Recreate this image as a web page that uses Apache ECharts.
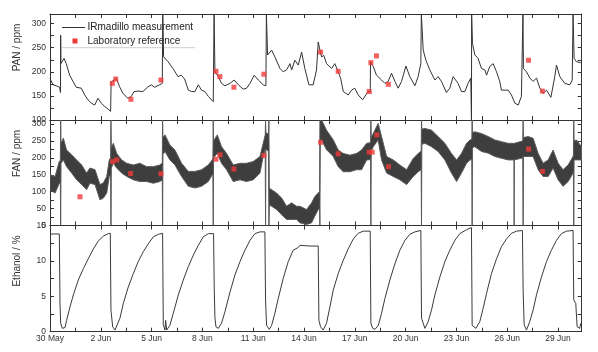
<!DOCTYPE html>
<html>
<head>
<meta charset="utf-8">
<script src="https://cdn.jsdelivr.net/npm/echarts@6/dist/echarts.min.js"></script>
<style>
  html, body { margin: 0; padding: 0; background: #fff; }
  #chart { width: 598px; height: 352px; }
</style>
</head>
<body>
<div id="chart"></div>
<script>
// day 0 = 30 May
var xTickLabels = ['30 May', '2 Jun', '5 Jun', '8 Jun', '11 Jun', '14 Jun', '17 Jun', '20 Jun', '23 Jun', '26 Jun', '29 Jun'];

// PAN (IRmadillo), ppm
var panDay = [0.00, 0.18, 0.37, 0.57, 0.62, 0.63, 0.645, 0.83, 0.96, 1.16, 1.36, 1.55, 1.85, 2.05, 2.24, 2.44, 2.64, 2.83, 3.03, 3.23, 3.42, 3.58,
    3.61, 3.72, 3.92, 4.11, 4.31, 4.60, 4.80, 4.96, 5.19, 5.49, 5.79, 5.98, 6.18, 6.47, 6.63,
    6.66, 6.71, 6.97, 7.26, 7.56, 7.75, 7.95, 8.17, 8.36, 8.56, 8.76, 8.95, 9.15, 9.35, 9.64,
    9.69, 9.74, 9.94, 10.13, 10.33, 10.63, 10.88, 11.12, 11.41, 11.61, 11.81, 12.06, 12.30, 12.59, 12.75,
    12.78, 12.85, 13.09, 13.28, 13.58, 13.77, 13.97, 14.17, 14.27, 14.46, 14.66, 14.86, 15.05, 15.29, 15.54, 15.74,
    15.84, 15.94, 16.04, 16.17, 16.33, 16.63, 16.82, 17.02, 17.16, 17.32, 17.61, 17.81, 18.00, 18.20, 18.46, 18.65, 18.79, 18.91,
    18.93, 19.09, 19.28, 19.58, 19.78, 19.97, 20.17, 20.37, 20.56, 20.76, 21.02, 21.25, 21.55, 21.74, 21.90,
    21.93, 22.04, 22.20, 22.43, 22.73, 22.92, 23.12, 23.41, 23.61, 23.81, 24.10, 24.30, 24.50, 24.69, 24.85,
    24.89, 24.90, 24.95, 25.09, 25.28, 25.48, 25.68, 25.78, 25.97, 26.17, 26.37, 26.56, 26.66, 27.06, 27.25, 27.45, 27.65, 27.84,
    27.93, 27.96, 28.14, 28.34, 28.53, 28.73, 28.93, 29.12, 29.32, 29.58, 29.81, 29.91, 30.11, 30.40, 30.70, 30.84,
    30.89, 30.95, 31.09, 31.35];
var panVal = [186, 173, 171, 168, 157, 276, 217, 228, 217, 193, 180, 168, 166, 152, 142, 135, 131, 145, 135, 128, 123, 118,
    179, 177, 186, 169, 155, 145, 149, 159, 160, 159, 169, 173, 168, 173, 176,
    320, 231, 221, 207, 190, 193, 185, 162, 159, 159, 173, 162, 159, 149, 138,
    320, 200, 190, 176, 171, 176, 183, 173, 164, 166, 176, 193, 183, 173, 171,
    320, 235, 245, 231, 207, 200, 204, 217, 204, 224, 214, 241, 207, 173, 173, 204,
    262, 245, 231, 234, 217, 207, 217, 200, 187, 159, 152, 162, 166, 152, 142, 152, 159, 158,
    221, 211, 193, 183, 176, 180, 197, 180, 166, 180, 212, 190, 171, 190, 217,
    320, 245, 224, 204, 183, 190, 180, 157, 166, 190, 176, 159, 159, 176, 187,
    100, 320, 259, 235, 228, 207, 204, 193, 211, 217, 200, 180, 162, 162, 152, 135, 131, 149,
    320, 207, 200, 187, 180, 187, 166, 155, 162, 147, 190, 214, 190, 176, 173, 183,
    320, 228, 221, 219];

// FAN (IRmadillo), ppm: upper and lower edge of the noisy trace
var fanDay = [0.00, 0.30, 0.55, 0.61, 0.63, 0.65, 0.79, 0.98, 1.28, 1.57, 1.87, 2.16, 2.36, 2.66, 2.95, 3.15, 3.35, 3.50, 3.58,
    3.60, 3.62, 3.74, 3.94, 4.23, 4.53, 4.92, 5.31, 5.71, 6.10, 6.49, 6.63,
    6.65, 6.67, 6.79, 7.08, 7.38, 7.77, 8.17, 8.56, 8.95, 9.35, 9.58, 9.62,
    9.64, 9.66, 9.88, 10.13, 10.43, 10.82, 11.22, 11.61, 12.00, 12.40, 12.59, 12.71,
    12.73, 12.75, 12.90, 12.93, 12.95, 13.09, 13.38, 13.68, 13.97, 14.27, 14.56, 14.76, 15.15, 15.45, 15.64, 15.84, 15.92,
    15.94, 15.96, 16.04, 16.33, 16.73, 17.02, 17.32, 17.71, 18.10, 18.40, 18.70, 18.93,
    18.95, 18.97, 19.09, 19.38, 19.58, 19.88, 20.27, 20.66, 21.06, 21.45, 21.74, 21.92,
    21.94, 21.96, 22.14, 22.53, 22.92, 23.32, 23.71, 24.01, 24.30, 24.60, 24.80, 24.91,
    24.93, 24.95, 25.09, 25.48, 25.88, 26.27, 26.66, 27.05, 27.40, 27.41, 27.42, 27.92,
    27.94, 27.96, 28.24, 28.53, 28.83, 29.12, 29.42, 29.71, 30.01, 30.30, 30.60, 30.89, 30.91,
    30.93, 30.95, 31.09, 31.39];
var fanHigh = [150, 145, 190, 190, 312, 243, 258, 223, 209, 194, 179, 155, 170, 165, 121, 126, 145, 194, 200,
    312, 230, 243, 213, 194, 184, 179, 184, 174, 174, 179, 185,
    312, 260, 268, 238, 223, 184, 160, 160, 165, 179, 194, 200,
    312, 250, 268, 233, 213, 179, 184, 184, 189, 204, 243, 268,
    312, 275, 270, 312, 110, 106, 96, 81, 57, 67, 57, 57, 47, 67, 86, 96, 100,
    312, 312, 312, 282, 253, 223, 213, 208, 213, 223, 243, 245,
    312, 260, 272, 302, 263, 204, 194, 179, 165, 198, 213, 220,
    312, 285, 287, 282, 263, 243, 213, 194, 213, 243, 253, 255,
    312, 275, 277, 272, 263, 253, 248, 243, 243, 243, 243, 250,
    312, 260, 263, 258, 213, 184, 194, 223, 184, 165, 179, 204, 210,
    312, 250, 253, 233];
var fanLow = [106, 96, 125, 125, 0, 184, 194, 174, 155, 135, 121, 106, 125, 121, 76, 81, 96, 145, 150,
    0, 170, 184, 170, 155, 145, 135, 130, 130, 125, 130, 135,
    0, 210, 219, 194, 179, 145, 116, 111, 116, 130, 150, 150,
    0, 200, 214, 184, 165, 130, 135, 130, 135, 155, 204, 225,
    0, 225, 220, 0, 60, 57, 47, 32, 18, 18, 18, 8, 3, 8, 28, 47, 50,
    0, 253, 253, 224, 204, 174, 159, 159, 165, 165, 194, 195,
    0, 220, 233, 253, 194, 155, 145, 135, 121, 145, 159, 165,
    0, 240, 243, 233, 219, 194, 155, 130, 155, 184, 194, 195,
    0, 230, 233, 219, 214, 204, 199, 194, 194, 0, 194, 200,
    0, 204, 204, 204, 165, 145, 145, 170, 135, 116, 130, 155, 160,
    0, 194, 194, 194];

// Ethanol (IRmadillo), %
var ethDay = [0.00, 0.55, 0.59, 0.63, 0.73, 0.89, 0.98, 1.18, 1.38, 1.67, 1.97, 2.26, 2.56, 2.85, 3.15, 3.44, 3.56,
    3.60, 3.62, 3.70, 3.84, 3.94, 4.13, 4.33, 4.62, 4.92, 5.21, 5.51, 5.80, 6.10, 6.40, 6.65,
    6.69, 6.79, 6.83, 6.89, 6.99, 7.08, 7.28, 7.58, 7.87, 8.17, 8.46, 8.76, 9.05, 9.35, 9.66,
    9.70, 9.74, 9.80, 9.94, 10.13, 10.33, 10.63, 10.92, 11.22, 11.51, 11.81, 12.10, 12.40, 12.69,
    12.73, 12.79, 12.95, 13.09, 13.28, 13.48, 13.77, 14.07, 14.36, 14.66, 14.76, 15.35, 15.84,
    15.88, 15.98, 16.13, 16.33, 16.53, 16.73, 17.02, 17.32, 17.61, 17.91, 18.20, 18.50, 18.91,
    18.95, 19.05, 19.19, 19.39, 19.58, 19.78, 20.07, 20.37, 20.66, 20.96, 21.25, 21.55, 21.90,
    21.94, 22.14, 22.33, 22.53, 22.73, 23.02, 23.32, 23.61, 23.91, 24.20, 24.60, 24.89,
    24.93, 25.15, 25.38, 25.58, 25.78, 26.07, 26.37, 26.66, 26.96, 27.25, 27.55, 27.90,
    27.94, 28.00, 28.14, 28.33, 28.53, 28.73, 29.02, 29.32, 29.61, 29.91, 30.20, 30.50, 30.89,
    30.93, 31.05, 31.13, 31.28, 31.35];
var ethVal = [13.8, 13.8, 4.0, 1.2, 0.47, 0.6, 1.6, 3.5, 5.2, 7.3, 8.9, 10.3, 11.7, 12.8, 13.5, 13.85, 13.9,
    3.0, 2.6, 0.7, 0.23, 0.47, 1.9, 4.0, 6.3, 8.2, 9.9, 11.3, 12.4, 13.4, 13.75, 13.9,
    1.0, 0.23, 1.6, 0.23, 0.3, 0.9, 2.6, 5.2, 7.3, 9.2, 10.8, 12.2, 13.4, 13.85, 13.85,
    5.9, 2.0, 0.7, 0.47, 1.2, 2.8, 5.6, 8.0, 9.9, 11.5, 12.9, 13.85, 14.1, 14.1,
    4.5, 0.9, 0.33, 0.9, 2.6, 4.7, 7.5, 9.9, 11.5, 11.9, 12.2, 12.1, 12.1,
    1.6, 0.7, 0.23, 1.2, 3.5, 5.9, 8.2, 10.1, 11.7, 13.1, 13.9, 14.2, 14.2,
    1.2, 0.5, 0.33, 0.9, 2.6, 4.7, 7.3, 9.6, 11.5, 12.9, 13.75, 14.1, 14.3,
    1.9, 0.47, 1.4, 3.05, 5.2, 7.7, 9.9, 11.5, 12.9, 13.85, 14.4, 14.7,
    0.9, 0.47, 1.4, 3.3, 5.4, 8.2, 10.3, 12.0, 13.1, 13.9, 14.2, 14.3,
    5.9, 1.0, 0.23, 1.4, 3.05, 5.2, 7.7, 9.9, 11.5, 12.9, 13.85, 14.2, 14.3,
    4.5, 4.0, 0.7, 0.47, 1.2];

// laboratory reference samples
var labPanDay = [3.68, 3.88, 4.78, 6.55, 9.80, 10.03, 10.86, 12.63, 15.98, 17.02, 18.85, 18.95, 19.28, 19.98, 28.26, 29.08];
var labPanVal = [176, 185, 143, 183, 201, 190, 168, 195, 241, 201, 159, 219, 233, 174, 224, 160];
var labFanDay = [1.77, 3.70, 3.94, 4.76, 6.55, 9.80, 10.04, 10.86, 12.63, 15.98, 17.02, 18.85, 19.03, 19.30, 19.99, 28.26, 29.08];
var labFanVal = [85, 189, 194, 154, 153, 196, 209, 167, 207, 246, 212, 217, 217, 268, 174, 226, 160];

var FONT = '"Liberation Sans", Arial, sans-serif';
var AXIS_COLOR = '#333';
var LAB_COLOR = '#f03a3a';

function zip(a, b) {
    return a.map(function (v, i) { return [v, b[i]]; });
}

function dateLabel(v) {
    var k = Math.round(v / 1.5);
    if (Math.abs(v - k * 1.5) > 1e-6 || k % 2) return '';
    return xTickLabels[k / 2] || '';
}

function everyOther(step) {
    return function (v) {
        var k = Math.round(v / step);
        return Math.abs(v - k * step) < 1e-6 ? String(v) : '';
    };
}

function axisTitle(text, y) {
    return {
        type: 'text', x: 17.5, y: y, rotation: Math.PI / 2,
        style: {text: text, fontSize: 10, fill: '#333', fontFamily: FONT, align: 'center', verticalAlign: 'middle'}
    };
}

var grids = [
    {left: 50, right: 16.3, top: 14, height: 106},
    {left: 50, right: 16.3, top: 120, height: 105.5},
    {left: 50, right: 16.3, top: 225.5, height: 106.2}
];
var yRanges = [
    {min: 100, max: 320, interval: 25, label: 50},
    {min: 0, max: 312, interval: 25, label: 50},
    {min: 0, max: 15, interval: 2.5, label: 5}
];

var xAxes = [], yAxes = [];
grids.forEach(function (g, i) {
    ['bottom', 'top'].forEach(function (pos) {
        xAxes.push({
            type: 'value', gridIndex: i, position: pos, min: 0, max: 31.4, interval: 1.5,
            axisLine: {show: true, onZero: false, lineStyle: {color: AXIS_COLOR, width: 1}},
            axisTick: {show: true, inside: true, length: 4, lineStyle: {color: AXIS_COLOR}},
            splitLine: {show: false},
            axisLabel: {
                show: i === 2 && pos === 'bottom', formatter: dateLabel, showMaxLabel: false,
                fontSize: 8.5, color: '#333', fontFamily: FONT, margin: 2
            }
        });
    });
    var r = yRanges[i];
    ['left', 'right'].forEach(function (pos) {
        yAxes.push({
            type: 'value', gridIndex: i, position: pos, min: r.min, max: r.max, interval: r.interval,
            axisLine: {show: true, onZero: false, lineStyle: {color: AXIS_COLOR, width: 1}},
            axisTick: {show: true, inside: true, length: 4, lineStyle: {color: AXIS_COLOR}},
            splitLine: {show: false},
            axisLabel: {
                show: pos === 'left', formatter: everyOther(r.label),
                fontSize: 8.5, color: '#333', fontFamily: FONT, margin: 4
            }
        });
    });
});

var chart = echarts.init(document.getElementById('chart'), null, {renderer: 'canvas'});

chart.setOption({
    animation: false,
    backgroundColor: '#fff',
    grid: grids,
    xAxis: xAxes,
    yAxis: yAxes,
    graphic: [
        // legend
        {type: 'line', shape: {x1: 61.7, y1: 47.7, x2: 195, y2: 47.7}, style: {stroke: '#cfcfcf', lineWidth: 1}},
        {type: 'line', shape: {x1: 62, y1: 27.5, x2: 85, y2: 27.5}, style: {stroke: '#333', lineWidth: 1}},
        {type: 'text', x: 87.5, y: 27.5,
            style: {text: 'IRmadillo measurement', fontSize: 10, fill: '#222', fontFamily: FONT, verticalAlign: 'middle'}},
        {type: 'rect', shape: {x: 72.5, y: 38.5, width: 5, height: 5}, style: {fill: LAB_COLOR}},
        {type: 'text', x: 87.5, y: 41,
            style: {text: 'Laboratory reference', fontSize: 10, fill: '#222', fontFamily: FONT, verticalAlign: 'middle'}},
        axisTitle('PAN / ppm', 47.5),
        axisTitle('FAN / ppm', 153.5),
        axisTitle('Ethanol / %', 261)
    ],
    series: [
        {
            name: 'IRmadillo measurement', type: 'line', xAxisIndex: 0, yAxisIndex: 0,
            data: zip(panDay, panVal), symbol: 'none', clip: true,
            lineStyle: {color: '#333', width: 1}, itemStyle: {color: '#333'}
        },
        {
            name: 'Laboratory reference', type: 'scatter', xAxisIndex: 0, yAxisIndex: 0,
            data: zip(labPanDay, labPanVal), symbol: 'rect', symbolSize: 5, z: 5,
            itemStyle: {color: LAB_COLOR}
        },
        {
            name: 'FAN', type: 'custom', xAxisIndex: 2, yAxisIndex: 2, clip: true,
            data: fanDay.map(function (d, i) { return [d, fanHigh[i], fanLow[i]]; }),
            encode: {x: 0, y: [1, 2]},
            renderItem: function (params, api) {
                if (params.dataIndex !== 0) return null;
                var upper = [], lower = [];
                for (var i = 0; i < fanDay.length; i++) {
                    upper.push(api.coord([fanDay[i], fanHigh[i]]));
                    lower.unshift(api.coord([fanDay[i], fanLow[i]]));
                }
                return {
                    type: 'polygon',
                    shape: {points: upper.concat(lower)},
                    style: {fill: '#3e3e3e', stroke: '#5a5a5a', lineWidth: 1}
                };
            }
        },
        {
            name: 'Laboratory reference', type: 'scatter', xAxisIndex: 2, yAxisIndex: 2,
            data: zip(labFanDay, labFanVal), symbol: 'rect', symbolSize: 5, z: 5,
            itemStyle: {color: LAB_COLOR}
        },
        {
            name: 'Ethanol', type: 'line', xAxisIndex: 4, yAxisIndex: 4,
            data: zip(ethDay, ethVal), symbol: 'none', clip: true,
            lineStyle: {color: '#3a3a3a', width: 1}
        }
    ]
});
</script>
</body>
</html>
